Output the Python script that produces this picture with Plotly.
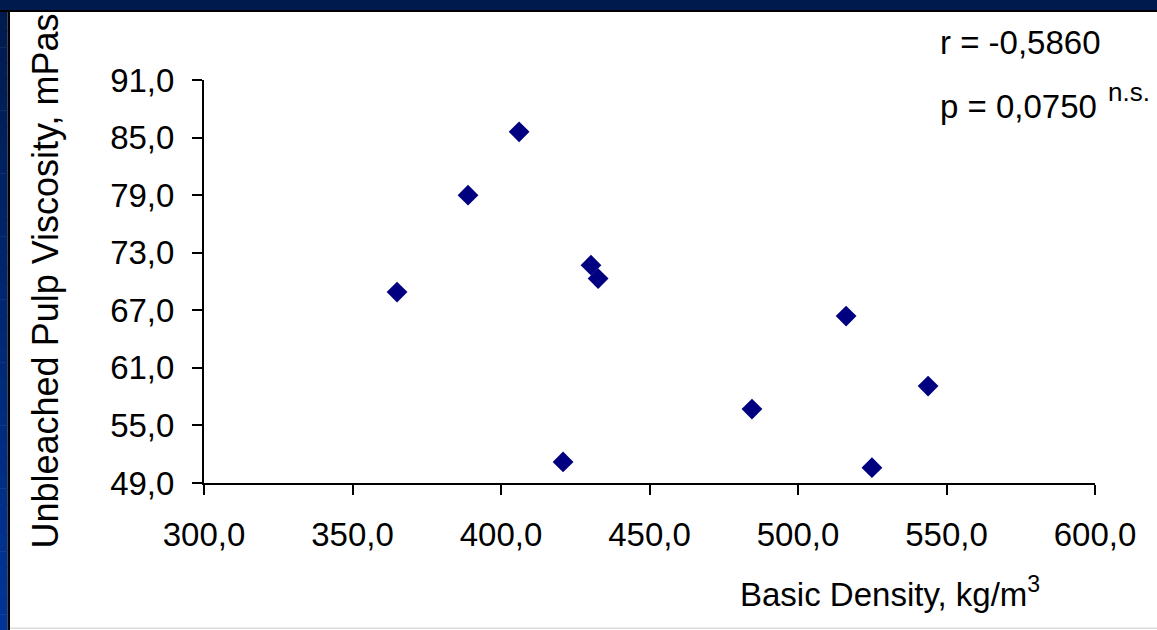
import plotly.graph_objects as go

# Basic density (kg/m3) vs unbleached pulp viscosity (mPas)
density = [365.0, 388.9, 406.1, 420.9, 430.3, 432.7, 484.5, 516.2, 524.9, 543.8]
viscosity = [68.9, 79.0, 85.6, 51.2, 71.7, 70.3, 56.7, 66.4, 50.6, 59.1]

x_ticks = [300, 350, 400, 450, 500, 550, 600]
x_tick_labels = ["300,0", "350,0", "400,0", "450,0", "500,0", "550,0", "600,0"]
y_ticks = [49, 55, 61, 67, 73, 79, 85, 91]
y_tick_labels = ["49,0", "55,0", "61,0", "67,0", "73,0", "79,0", "85,0", "91,0"]

r_text = "r = -0,5860"
p_text = "p = 0,0750"
p_note = "n.s."

W, H = 1157, 630
L, R, T, B = 204, 62, 80, 147
PW, PH = W - L - R, H - T - B
FONT = "Liberation Sans, Arial, sans-serif"


def px(x):
    return (x - L) / PW


def py(y):
    return (H - B - y) / PH


fig = go.Figure()
fig.add_trace(go.Scatter(
    x=density, y=viscosity, mode="markers",
    marker=dict(symbol="diamond", size=16, color="#000080",
                line=dict(width=0)),
    showlegend=False, hoverinfo="x+y",
))


def rect(x0, x1, y0, y1, color):
    return dict(type="rect", xref="paper", yref="paper",
                x0=px(x0), x1=px(x1), y0=py(y1), y1=py(y0),
                fillcolor=color, line=dict(width=0), layer="above")


shapes = []
# left border, shaded from dark navy at the top to a brighter blue below
n = 40
c0, c1 = (0, 26, 77), (0, 52, 150)
for i in range(n):
    t = i / (n - 1)
    col = tuple(round(a + (b - a) * t) for a, b in zip(c0, c1))
    shapes.append(rect(0, 7.5, i * H / n, (i + 1) * H / n + 0.5,
                       "rgb(%d,%d,%d)" % col))
shapes.append(rect(7.5, 10, 0, H, "black"))
# top band
shapes.append(rect(0, W, 0, 10, "rgb(0,26,77)"))
shapes.append(rect(0, W, 10, 12, "black"))
# thin grey rule along the bottom
shapes.append(rect(10, W, 627.5, 629, "#dcdcdc"))

annotations = [
    dict(text="Unbleached Pulp Viscosity, mPas", textangle=-90,
         xref="paper", yref="paper", x=px(45), y=py(551),
         xanchor="center", yanchor="bottom", showarrow=False,
         font=dict(family=FONT, size=36, color="black")),
    dict(text="Basic Density, kg/m<sup>3</sup>",
         xref="paper", yref="paper", x=px(738), y=py(592),
         xanchor="left", yanchor="middle", showarrow=False,
         font=dict(family=FONT, size=33, color="black")),
    dict(text=r_text, xref="paper", yref="paper", x=px(938), y=py(43),
         xanchor="left", yanchor="middle", showarrow=False,
         font=dict(family=FONT, size=33, color="black")),
    dict(text=p_text, xref="paper", yref="paper", x=px(938), y=py(106),
         xanchor="left", yanchor="middle", showarrow=False,
         font=dict(family=FONT, size=33, color="black")),
    dict(text=p_note, xref="paper", yref="paper", x=px(1106), y=py(92),
         xanchor="left", yanchor="middle", showarrow=False,
         font=dict(family=FONT, size=26, color="black")),
]

axis_common = dict(
    showline=True, linecolor="black", linewidth=2,
    ticks="outside", ticklen=10, tickwidth=2, tickcolor="black",
    showgrid=False, zeroline=False,
    tickfont=dict(family=FONT, size=33, color="black"),
)

fig.update_layout(
    width=W, height=H,
    margin=dict(l=L, r=R, t=T, b=B, pad=0),
    paper_bgcolor="white", plot_bgcolor="white",
    xaxis=dict(range=[300, 600], tickvals=x_ticks, ticktext=x_tick_labels,
               ticklabelstandoff=11, **axis_common),
    yaxis=dict(range=[49, 91], tickvals=y_ticks, ticktext=y_tick_labels,
               ticklabelstandoff=11, **axis_common),
    shapes=shapes,
    annotations=annotations,
)

fig.write_html("out.html")
